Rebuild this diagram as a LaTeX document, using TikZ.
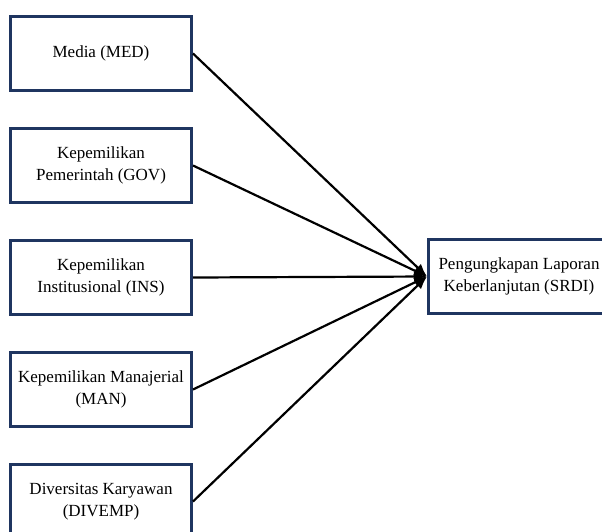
\documentclass[tikz,border=0pt]{standalone}
\usepackage{fontspec}
\setmainfont{Liberation Serif}
\usetikzlibrary{arrows.meta}
\definecolor{boxnavy}{HTML}{1F3560}
\tikzset{
  varbox/.style={draw=boxnavy, line width=3pt, fill=white, minimum width=181pt, minimum height=74pt,
    align=center, inner sep=2pt, font=\fontsize{17}{22}\selectfont},
  link/.style={line width=2.2pt, black, -{Latex[length=13pt,width=10pt]}}
}
\begin{document}
\begin{tikzpicture}[x=1pt,y=-1pt]
\useasboundingbox (0,0) rectangle (602,531);
\clip (0,0) rectangle (602,531);
\node[varbox] (med) at (101,53.5) {Media (MED)};
\node[varbox] (gov) at (101,165.5) {Kepemilikan\\Pemerintah (GOV)};
\node[varbox] (ins) at (101,277.5) {Kepemilikan\\Institusional (INS)};
\node[varbox] (man) at (101,389.5) {Kepemilikan Manajerial\\(MAN)};
\node[varbox] (div) at (101,501.5) {Diversitas Karyawan\\(DIVEMP)};
\node[varbox] (srdi) at (519,276.5) {Pengungkapan Laporan\\Keberlanjutan (SRDI)};
\foreach \s in {med,gov,ins,man,div}
  \draw[link] (\s.east) -- (srdi.west);
\end{tikzpicture}
\end{document}
